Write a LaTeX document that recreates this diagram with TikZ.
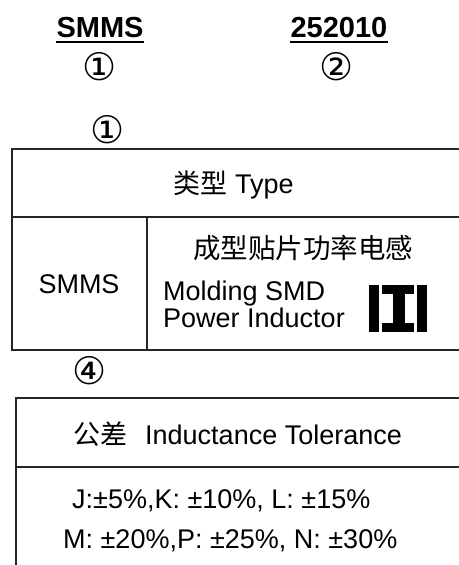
\documentclass[tikz,border=0pt]{standalone}
\usepackage{fontspec}
\setmainfont{Liberation Sans}
\newfontfamily\cjk{Noto Sans CJK SC}
\newfontfamily\symf{DejaVu Sans}
\begin{document}
\begin{tikzpicture}[x=1pt,y=-1pt,
  txt/.style={inner sep=0pt,font=\fontsize{27}{27}\selectfont},
  hdr/.style={inner sep=0pt,font=\fontsize{29}{29}\selectfont\bfseries},
  circ/.style={inner sep=0pt,font=\fontsize{38}{38}\selectfont\symf},
  cjkt/.style={inner sep=0pt,font=\fontsize{27.5}{27.5}\selectfont\cjk},
  tline/.style={line width=1.3pt,draw=black!85},
  ulin/.style={line width=2.2pt},
  iconbar/.style={fill=black,draw=none}]
\useasboundingbox (0,0) rectangle (458,565);
% header
\node[hdr,anchor=base] (h1) at (100,37) {SMMS};
\node[hdr,anchor=base] (h2) at (339,37) {252010};
\draw[ulin] (h1.south west |- 0,42) -- (h1.south east |- 0,42);
\draw[ulin] (h2.south west |- 0,42) -- (h2.south east |- 0,42);
\node[circ] (c1) at (100,67) {①};
\node[circ] (c2) at (337,67) {②};
\node[circ] (c3) at (108,130) {①};
% table 1
\draw[tline] (460,149) -- (12,149) -- (12,350) -- (460,350);
\draw[tline] (12,217) -- (460,217);
\draw[tline] (147,217) -- (147,350);
\node[txt,anchor=base west] (t1) at (173,193) {{\cjk 类型}\hspace{8pt}Type};
\node[cjkt] (t2) at (303,248) {成型贴片功率电感};
\node[txt] (t3) at (79,284) {SMMS};
\node[txt,anchor=base west] (t4) at (163,300) {Molding SMD};
\node[txt,anchor=base west] (t5) at (163,327) {Power Inductor};
% icon
\fill[iconbar] (369,285) rectangle (379,332);
\fill[iconbar] (382,285) rectangle (414,294);
\fill[iconbar] (393,285) rectangle (405,332);
\fill[iconbar] (382,323) rectangle (414,332);
\fill[iconbar] (417,285) rectangle (427,332);
% table 2
\node[circ] (c4) at (90,371) {④};
\draw[tline] (460,398) -- (16,398) -- (16,567);
\draw[tline] (16,467) -- (460,467);
\node[txt,anchor=base west] (u1) at (73,444) {{\cjk 公差}\hspace{18pt}Inductance Tolerance};
\node[txt,anchor=base west] (u2) at (72,508) {J:±5\%,K: ±10\%, L: ±15\%};
\node[txt,anchor=base west] (u3) at (63,548) {M: ±20\%,P: ±25\%, N: ±30\%};
\end{tikzpicture}
\end{document}
